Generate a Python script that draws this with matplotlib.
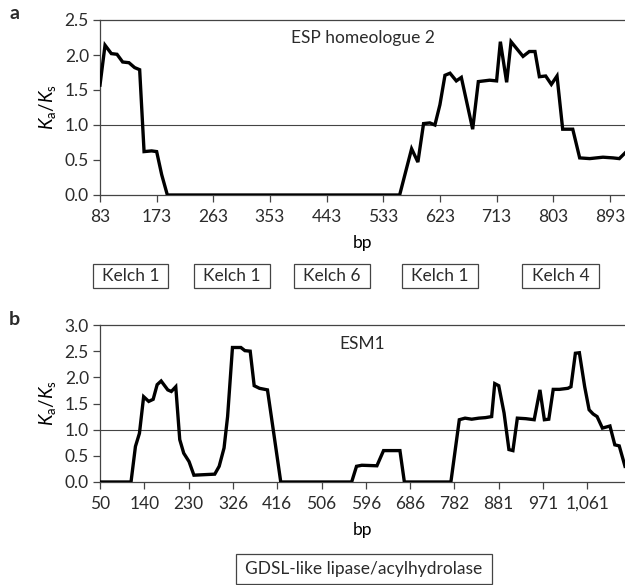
"""
Ka/Ks sliding-window plots for ESP homeologue 2 (a) and ESM1 (b).
"""

import matplotlib
matplotlib.use("Agg")
import matplotlib.pyplot as plt
from matplotlib.patches import Rectangle

# ── data ─────────────────────────────────────────────────────────────
# panel a: window start (bp) vs Ka/Ks
ESP_BP = [83, 91, 101, 110, 119, 129, 138, 146, 153, 165, 173, 181, 190,
          559, 578, 588, 597, 607, 615, 623, 631, 639, 649, 657, 675, 684,
          702, 713, 719, 729, 736, 755, 765, 774, 781, 791, 800, 809, 818,
          834, 845, 861, 882, 898, 908, 917]
ESP_KAKS = [1.57, 2.14, 2.02, 2.01, 1.90, 1.89, 1.82, 1.79, 0.62, 0.63,
            0.62, 0.29, 0.0,
            0.0, 0.66, 0.47, 1.02, 1.03, 1.00, 1.29, 1.71, 1.74, 1.63, 1.68,
            0.94, 1.62, 1.64, 1.63, 2.19, 1.61, 2.19, 1.98, 2.05, 2.05, 1.69,
            1.70, 1.58, 1.70, 0.94, 0.94, 0.53, 0.52, 0.54, 0.53, 0.52, 0.60]
ESP_TICKS = [83, 173, 263, 353, 443, 533, 623, 713, 803, 893]

# panel b: position in category (tick) units vs Ka/Ks
ESM_POS = [0.0, 0.70, 0.80, 0.89, 0.985, 1.10, 1.20, 1.29, 1.38, 1.53, 1.61,
           1.71, 1.80, 1.89, 2.01, 2.12, 2.35, 2.59, 2.69, 2.80, 2.88, 2.99,
           3.18, 3.27, 3.39, 3.48, 3.60, 3.78, 3.91, 4.08,
           5.68, 5.79, 5.91, 6.25, 6.40, 6.77, 6.87,
           7.92, 8.11, 8.24, 8.39, 8.55, 8.70, 8.84, 8.91, 9.00, 9.12, 9.23,
           9.32, 9.42, 9.61, 9.80, 9.93, 10.03, 10.13, 10.23, 10.37, 10.56,
           10.63, 10.73, 10.82, 10.94, 11.04, 11.13, 11.22, 11.34, 11.51,
           11.62, 11.72, 11.85]
ESM_KAKS = [0.0, 0.0, 0.68, 0.93, 1.63, 1.54, 1.58, 1.86, 1.93, 1.76, 1.73,
            1.82, 0.81, 0.55, 0.39, 0.13, 0.14, 0.15, 0.30, 0.65, 1.25, 2.57,
            2.57, 2.51, 2.50, 1.84, 1.79, 1.76, 1.00, 0.0,
            0.0, 0.30, 0.32, 0.31, 0.60, 0.60, 0.0,
            0.0, 1.19, 1.22, 1.20, 1.22, 1.23, 1.25, 1.88, 1.84, 1.32, 0.62,
            0.60, 1.22, 1.21, 1.19, 1.76, 1.19, 1.20, 1.77, 1.77, 1.79,
            1.82, 2.46, 2.47, 1.82, 1.38, 1.30, 1.25, 1.03, 1.07,
            0.71, 0.69, 0.30]
ESM_TICKLABELS = ["50", "140", "230", "326", "416", "506", "596", "686",
                  "782", "881", "971", "1,061"]

KELCH_LABELS = ["Kelch 1", "Kelch 1", "Kelch 6", "Kelch 1", "Kelch 4"]
GDSL_LABEL = "GDSL-like lipase/acylhydrolase"

# ── style ────────────────────────────────────────────────────────────
W, H = 625, 585
TEXT = "#2b2b2b"
FONT = "Lato"
FS = 12.5
plt.rcParams["font.family"] = [FONT, "DejaVu Sans"]
plt.rcParams["mathtext.fontset"] = "custom"
plt.rcParams["mathtext.rm"] = FONT
plt.rcParams["mathtext.it"] = FONT + ":italic"
plt.rcParams["text.color"] = TEXT
plt.rcParams["xtick.color"] = TEXT
plt.rcParams["ytick.color"] = TEXT
plt.rcParams["xtick.labelsize"] = FS
plt.rcParams["ytick.labelsize"] = FS


def fx(px):
    return px / W


def fy(py):
    return 1 - py / H


def style_axes(ax):
    for side in ("left", "bottom", "top"):
        ax.spines[side].set_color("#444444")
        ax.spines[side].set_linewidth(0.9)
    ax.spines["right"].set_visible(False)
    ax.tick_params(axis="both", direction="out", length=5, width=0.9,
                   color="#444444")
    ax.tick_params(axis="x", pad=5)
    ax.tick_params(axis="y", pad=3)
    ax.axhline(1.0, color="#444444", lw=0.8, zorder=1)
    ax.set_ylabel(r"$K_{\mathrm{a}}/K_{\mathrm{s}}$", fontsize=13.5,
                  labelpad=5)
    ax.set_xlabel("bp", fontsize=FS, labelpad=7)


def draw_box(x0, x1, y0, y1, label):
    fig = plt.gcf()
    fig.patches.append(Rectangle((fx(x0), fy(y1)), fx(x1) - fx(x0),
                                 fy(y0) - fy(y1), transform=fig.transFigure,
                                 fill=False, ec="#444444", lw=0.9))
    fig.text(fx((x0 + x1) / 2), fy((y0 + y1) / 2), label, ha="center",
             va="center", fontsize=FS)


def main():
    fig = plt.figure(figsize=(W / 100, H / 100), dpi=100)

    # ── panel a ──────────────────────────────────────────────────────
    ax_a = fig.add_axes([fx(100), fy(195), 1 - fx(100), fy(20) - fy(195)])
    ax_a.plot(ESP_BP, ESP_KAKS, color="black", lw=2.4, zorder=3,
              solid_joinstyle="miter")
    ax_a.set_xlim(83, 917)
    ax_a.set_ylim(0, 2.5)
    ax_a.set_yticks([0, 0.5, 1.0, 1.5, 2.0, 2.5])
    ax_a.set_yticklabels(["0.0", "0.5", "1.0", "1.5", "2.0", "2.5"])
    ax_a.set_xticks(ESP_TICKS)
    style_axes(ax_a)
    ax_a.text(0.5, 0.94, "ESP homeologue 2", transform=ax_a.transAxes,
              ha="center", va="top", fontsize=FS)
    fig.text(fx(9), fy(19), "a", fontsize=14, fontweight="bold")

    box_x = [(93, 168), (194, 270), (294, 370), (402, 478), (522, 599)]
    for (x0, x1), lab in zip(box_x, KELCH_LABELS):
        draw_box(x0, x1, 264, 288, lab)

    # ── panel b ──────────────────────────────────────────────────────
    ax_b = fig.add_axes([fx(100), fy(482), 1 - fx(100), fy(325) - fy(482)])
    ax_b.plot(ESM_POS, ESM_KAKS, color="black", lw=2.4, zorder=3,
              solid_joinstyle="miter")
    ax_b.set_xlim(0, 11.85)
    ax_b.set_ylim(0, 3.0)
    ax_b.set_yticks([0, 0.5, 1.0, 1.5, 2.0, 2.5, 3.0])
    ax_b.set_yticklabels(["0.0", "0.5", "1.0", "1.5", "2.0", "2.5", "3.0"])
    ax_b.set_xticks(range(len(ESM_TICKLABELS)))
    ax_b.set_xticklabels(ESM_TICKLABELS)
    style_axes(ax_b)
    ax_b.text(0.5, 0.93, "ESM1", transform=ax_b.transAxes,
              ha="center", va="top", fontsize=FS)
    fig.text(fx(9), fy(325), "b", fontsize=14, fontweight="bold")

    draw_box(236, 492, 554, 584, GDSL_LABEL)

    fig.savefig("out.png", dpi=100, facecolor="white")
    plt.close(fig)


if __name__ == "__main__":
    main()
